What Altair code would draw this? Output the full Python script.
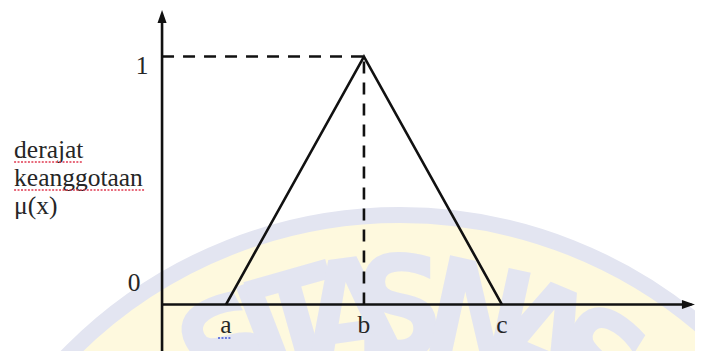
import math
import altair as alt
import pandas as pd

# ---------------- data ----------------
point_names = ["a", "b", "c"]
point_x = [0.94, 2.97, 5.0]          # positions of a, b, c on the x axis
point_mu = [0.0, 1.0, 0.0]           # membership degree at a, b, c
y_tick_values = [0, 1]
y_tick_labels = ["0", "1"]
title_lines = ["derajat", "keanggotaan", "μ(x)"]

# faint watermark (university logo) behind the figure
wm_letters = ["S", "I", "T", "A", "S", "N", "A", "S"]
wm_angles = [-27.4, -21.1, -15.8, -7.8, 0.0, 12.3, 22.7, 31.4]

# ---------------- layout ----------------
# the page (8px margins) is photographed at 703/711 of its size,
# so reference-pixel measures are scaled by S
S = 711.0 / 703.0
W, H = 695, 347


def rx(x):  # reference px -> plot px
    return x * S - 8


def ry(y):
    return y * S - 8


AX_X = rx(162.0)     # y axis position
AX_Y = ry(302.5)     # x axis position
UX = 68.0 * S        # px per x unit
UY = 248.0 * S       # px per membership unit
x_domain = [-AX_X / UX, (W - AX_X) / UX]
y_domain = [-(H - AX_Y) / UY, AX_Y / UY]


def u_of(px):   # plot px -> x data
    return (px - AX_X) / UX


def v_of(py):   # plot px -> y data
    return (AX_Y - py) / UY


X = lambda f="u": alt.X(f"{f}:Q", scale=alt.Scale(domain=x_domain, nice=False, zero=False), axis=None)
Y = lambda f="v": alt.Y(f"{f}:Q", scale=alt.Scale(domain=y_domain, nice=False, zero=False), axis=None)

INK = "#111111"
TXT = "#262626"
SERIF = "Liberation Serif, Times New Roman, serif"
FS = 25.5 * S
LW = 2.6 * S
BAND = "#E3E5F1"
CREAM = "#FEF9DE"

# watermark disk
WM_CX, WM_CY, WM_R = rx(400.0), ry(677.0), 472.0 * S
disk = pd.DataFrame({"u": [u_of(WM_CX)], "v": [v_of(WM_CY)]})
disk_layer = alt.Chart(disk).mark_point(
    shape="circle", size=(2 * (WM_R - 8 * S)) ** 2, fill=CREAM, stroke=BAND,
    strokeWidth=16 * S, fillOpacity=1, strokeOpacity=1, opacity=1
).encode(x=X(), y=Y())

rows = []
for ch, ang in zip(wm_letters, wm_angles):
    t = math.radians(ang)
    px = WM_CX + 433 * S * math.sin(t)
    py = WM_CY - 433 * S * math.cos(t)
    rows.append({"u": u_of(px), "v": v_of(py), "t": ch, "ang": ang % 360})
letters = pd.DataFrame(rows)
letter_layer = alt.Chart(letters).mark_text(
    font="Liberation Sans Narrow, DejaVu Sans Condensed, Liberation Sans, sans-serif",
    fontWeight="bold", fontSize=142, align="center", baseline="top", color=BAND
).encode(x=X(), y=Y(), text="t:N", angle=alt.Angle("ang:Q", scale=None))

# axes with arrows
x_end = u_of(rx(695))
axes = pd.DataFrame({
    "u": [0.0, 0.0], "u2": [x_end - 0.05, 0.0],
    "v": [0.0, y_domain[0]], "v2": [0.0, y_domain[1] - 0.02],
})
axes_layer = alt.Chart(axes).mark_rule(color=INK, strokeWidth=LW).encode(
    x=X(), x2="u2:Q", y=Y(), y2="v2:Q")

AH = (13 * S) ** 2
up_arrow = alt.Chart(pd.DataFrame({"u": [0.0], "v": [v_of(ry(8))]})).mark_point(
    shape="M0,0L0.7,2L-0.7,2Z", size=AH, filled=True, color=INK, opacity=1
).encode(x=X(), y=Y())
right_arrow = alt.Chart(pd.DataFrame({"u": [x_end], "v": [0.0]})).mark_point(
    shape="M0,0L-2,-0.7L-2,0.7Z", size=AH, filled=True, color=INK, opacity=1
).encode(x=X(), y=Y())

# dashed guides at the peak
b_x, b_mu = point_x[1], point_mu[1]
guides = pd.DataFrame({"u": [0.0, b_x], "u2": [b_x, b_x], "v": [b_mu, 0.0], "v2": [b_mu, b_mu]})
guide_layer = alt.Chart(guides).mark_rule(color=INK, strokeWidth=LW, strokeDash=[12 * S, 9 * S]).encode(
    x=X(), x2="u2:Q", y=Y(), y2="v2:Q")

# triangular membership function
tri = pd.DataFrame({"u": point_x, "v": point_mu, "i": list(range(len(point_x)))})
tri_layer = alt.Chart(tri).mark_line(color=INK, strokeWidth=LW).encode(
    x=X(), y=Y(), order="i:Q")

# labels
xl = pd.DataFrame({"u": point_x, "v": [0.0] * 3, "t": point_names})
xlab = alt.Chart(xl).mark_text(font=SERIF, fontSize=FS, color=TXT, align="center",
                               baseline="alphabetic", dy=28.5 * S).encode(x=X(), y=Y(), text="t:N")
one = alt.Chart(pd.DataFrame({"u": [0.0], "v": [y_tick_values[1]], "t": [y_tick_labels[1]]})).mark_text(
    font=SERIF, fontSize=FS, color=TXT, align="center", baseline="alphabetic", dx=-20 * S, dy=17 * S
).encode(x=X(), y=Y(), text="t:N")
zero = alt.Chart(pd.DataFrame({"u": [0.0], "v": [y_tick_values[0]], "t": [y_tick_labels[0]]})).mark_text(
    font=SERIF, fontSize=FS, color=TXT, align="center", baseline="alphabetic", dx=-28 * S, dy=-13.5 * S
).encode(x=X(), y=Y(), text="t:N")

title = alt.Chart(pd.DataFrame({"u": [0.0], "v": [0.5], "t": ["\n".join(title_lines)]})).mark_text(
    font=SERIF, fontSize=FS, color=TXT, align="left", baseline="alphabetic",
    lineBreak="\n", lineHeight=28 * S, dx=rx(14) - AX_X, dy=ry(156) - (AX_Y - 0.5 * UY)
).encode(x=X(), y=Y(), text="t:N")

# spell-check squiggles of the source document
sq = pd.DataFrame({
    "u": [u_of(rx(14)), u_of(rx(14)), u_of(rx(218))],
    "u2": [u_of(rx(83)), u_of(rx(145)), u_of(rx(231))],
    "v": [v_of(ry(160)), v_of(ry(188)), v_of(ry(336))], "c": ["r", "r", "b"],
})
squig = alt.Chart(sq).mark_rule(strokeWidth=1.6, strokeDash=[2, 1.5]).encode(
    x=X(), x2="u2:Q", y=Y(),
    color=alt.Color("c:N", scale=alt.Scale(domain=["r", "b"], range=["#E0384F", "#4058D8"]), legend=None))

chart = alt.layer(
    disk_layer, letter_layer, guide_layer, axes_layer, up_arrow, right_arrow, tri_layer,
    xlab, one, zero, title, squig
).properties(
    width=W, height=H, padding=0, autosize=alt.AutoSizeParams(type="none"), background="white"
).configure_view(stroke=None)

chart.save("out.html", embed_options={"renderer": "svg", "actions": False})
